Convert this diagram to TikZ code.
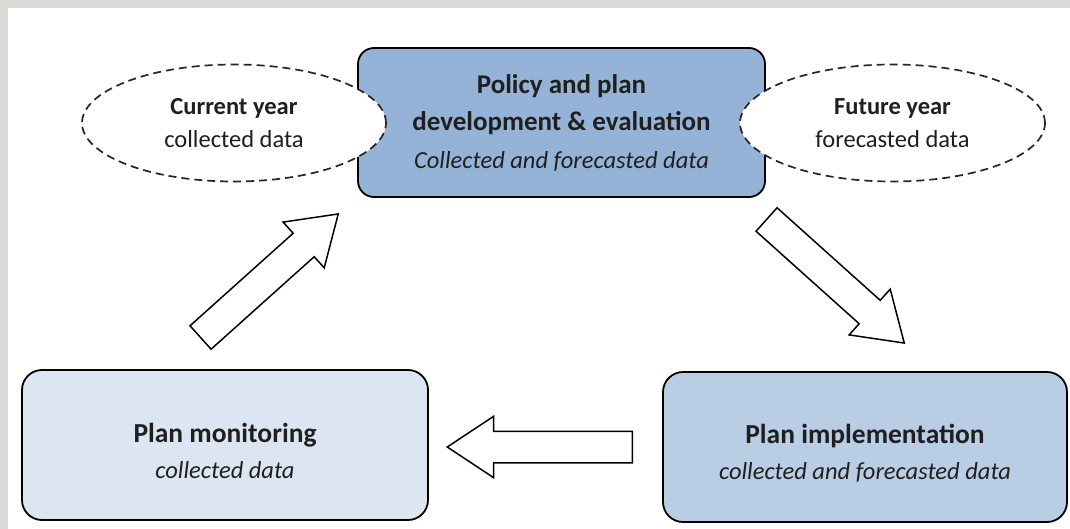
\documentclass[tikz,border=0pt]{standalone}
\usepackage{fontspec}
\setmainfont{Carlito}
\usetikzlibrary{shapes.geometric,shapes.arrows}
\definecolor{frameGray}{RGB}{218,218,214}
\definecolor{policyBlue}{RGB}{149,179,215}
\definecolor{implBlue}{RGB}{185,205,229}
\definecolor{monBlue}{RGB}{220,230,242}
\newcommand\headsz{\fontsize{27.5}{36}\selectfont}
\newcommand\datasz{\fontsize{24.5}{36}\selectfont}
\newcommand\ovalsz{\fontsize{24.5}{33}\selectfont}
\newcommand\lowstrut{\rule{0pt}{32pt}}
\tikzset{
  stage/.style   ={draw=black, line width=1.8pt, rounded corners=20pt, align=center,
                   inner sep=0pt, minimum width=406pt, minimum height=150pt, text=black!88,
                   font=\bfseries\headsz},
  yearoval/.style={ellipse, draw=black!85, line width=1.7pt, dash pattern=on 8pt off 5pt,
                   fill=white, align=center, inner sep=0pt, minimum width=304pt,
                   minimum height=117pt, font=\ovalsz, text=black!88},
  flow/.style    ={single arrow, draw=black, line width=1.5pt, fill=white, inner xsep=0pt,
                   inner ysep=15pt, minimum height=185pt, single arrow head extend=15pt,
                   single arrow head indent=0pt, single arrow tip angle=67, anchor=tail},
}
\begin{document}
\begin{tikzpicture}[x=1pt, y=-1pt]
\fill[frameGray] (0,0) rectangle (1070,529);
\fill[white] (8,8) rectangle (1070,529);
\useasboundingbox (0,0) rectangle (1070,529);

% the three stages
\node[stage, fill=policyBlue, rounded corners=16pt, minimum width=407pt, minimum height=149pt,
      font=\bfseries\fontsize{27}{37.5}\selectfont] (policy) at (561.5,122.5)
  {Policy and plan\\ development \& evaluation\\ \mdseries\itshape\datasz Collected and forecasted data};
\node[stage, fill=monBlue] (monitor) at (225,445)
  {\lowstrut Plan monitoring\\ \mdseries\itshape\datasz collected data};
\node[stage, fill=implBlue, minimum width=404pt] (implement) at (865,447)
  {\lowstrut Plan implementation\\ \mdseries\itshape\datasz collected and forecasted data};

% data years
\node[yearoval] (current) at (234,123) {\bfseries Current year\\ collected data};
\node[yearoval, minimum width=305pt] (future) at (892.5,123) {\bfseries Future year\\ forecasted data};

% cycle arrows
\node[flow, rotate=41.9] (up) at (200,338) {};
\node[flow, rotate=-41.9] (down) at (766,219) {};
\node[flow, rotate=180] (back) at (633,447) {};
\end{tikzpicture}
\end{document}
